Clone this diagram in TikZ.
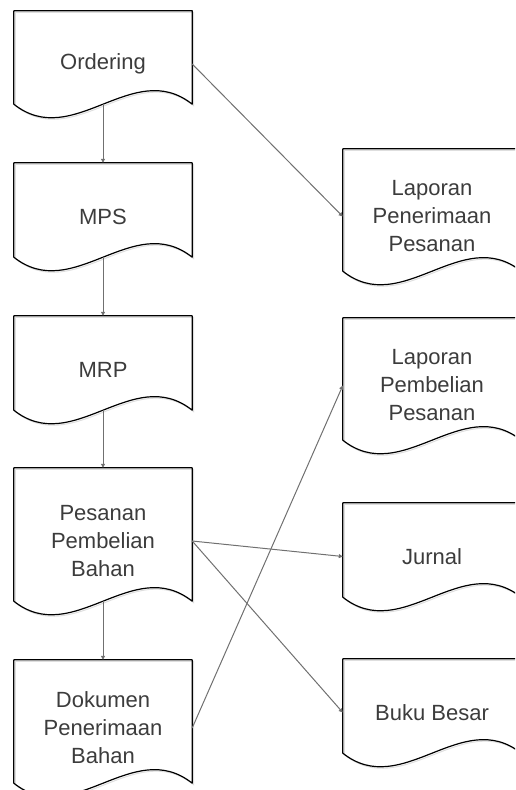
\documentclass[tikz,border=0pt]{standalone}
\usepackage{fontspec}
\setmainfont{Liberation Sans}
\usetikzlibrary{positioning,calc,arrows.meta}

\definecolor{linegray}{RGB}{112,112,112}
\definecolor{textgray}{RGB}{60,60,60}
\definecolor{shadegray}{RGB}{222,222,222}

\tikzset{
  doc/.style={minimum width=178pt, minimum height=#1, inner sep=0pt,
              align=center, text=textgray, font=\fontsize{22}{28}\selectfont},
  docline/.style={draw=black, line width=1.2pt, line join=round},
  docshadow/.style={draw=shadegray, line width=1pt},
  flow/.style={draw=linegray, line width=1pt, -{Triangle[length=4pt,width=4pt]}},
}

% document outline with the wavy bottom edge
\newcommand\drawdoc[2]{%
  \draw[#2] (#1.north west) -- (#1.north east) -- ($(#1.south east)+(0,-13)$)
    .. controls ($(#1.south east)!0.333!(#1.south west)+(0,-60)$)
           and ($(#1.south west)!0.333!(#1.south east)+(0,34)$)
    .. ($(#1.south west)+(0,-13)$) -- cycle;
}

\begin{document}
\begin{tikzpicture}[x=1pt,y=-1pt]
  \clip (0,0) rectangle (515,790);

  % left column
  \node[doc=106pt] (ord) at (103,64)    {Ordering};
  \node[doc=107pt] (mps) at (103,216.5) {MPS};
  \node[doc=107pt] (mrp) at (103,369.5) {MRP};
  \node[doc=146pt] (pes) at (103,541)   {Pesanan\\Pembelian\\Bahan};
  \node[doc=136pt] (dok) at (103,728)   {Dokumen\\Penerimaan\\Bahan};

  % right column
  \node[doc=135pt] (lpen) at (432,216.5) {Laporan\\Penerimaan\\Pesanan};
  \node[doc=135pt] (lpem) at (432,385.5) {Laporan\\Pembelian\\Pesanan};
  \node[doc=107pt] (jur)  at (432,556.5) {Jurnal};
  \node[doc=107pt] (buku) at (432,712.5) {Buku Besar};

  \foreach \n in {ord,mps,mrp,pes,dok,lpen,lpem,jur,buku}
    \drawdoc{\n}{docshadow, transform canvas={xshift=1.5pt,yshift=-1.5pt}};
  \foreach \n in {ord,mps,mrp,pes,dok,lpen,lpem,jur,buku}
    \drawdoc{\n}{docline};

  % flow
  \draw[flow] ([yshift=13pt]ord.south) -- (mps);
  \draw[flow] ([yshift=13pt]mps.south) -- (mrp);
  \draw[flow] ([yshift=13pt]mrp.south) -- (pes);
  \draw[flow] ([yshift=13pt]pes.south) -- (dok);
  \draw[flow] (ord.east) -- (lpen.west);
  \draw[flow] (pes.east) -- (jur.west);
  \draw[flow] (pes.east) -- (buku.west);
  \draw[flow] (dok.east) -- (lpem.west);
\end{tikzpicture}
\end{document}
